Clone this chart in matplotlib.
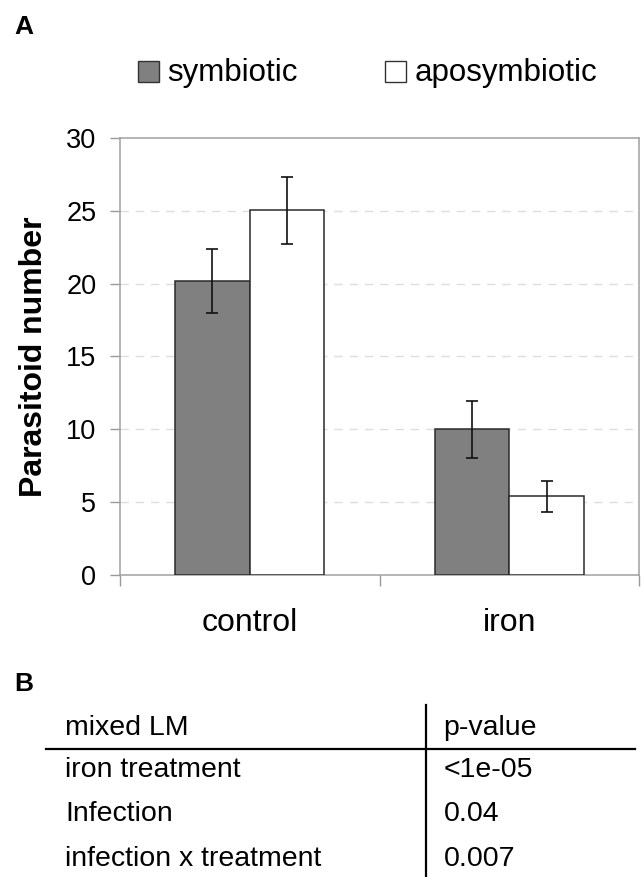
import matplotlib
matplotlib.use("Agg")
import matplotlib.pyplot as plt
import numpy as np
from matplotlib.lines import Line2D
from matplotlib.patches import Rectangle

plt.rcParams['font.family'] = ['Liberation Sans', 'DejaVu Sans']

# data
categories = ['control', 'iron']
series = ['symbiotic', 'aposymbiotic']
symbiotic = [20.2, 10.0]
symbiotic_err = [2.2, 1.95]
aposymbiotic = [25.05, 5.4]
aposymbiotic_err = [2.3, 1.05]

table_header = ['mixed LM', 'p-value']
table_terms = ['iron treatment', 'Infection', 'infection x treatment']
table_pvalues = ['<1e-05', '0.04', '0.007']

fig = plt.figure(figsize=(6.41, 8.77), dpi=100)
ax = fig.add_axes([0.1872, 0.3444, 0.8097, 0.4983])

x = np.arange(len(categories))
w = 0.288
ax.bar(x - w / 2, symbiotic, w, color='#808080', edgecolor='#2a2a2a', linewidth=1.1, zorder=3)
ax.bar(x + w / 2, aposymbiotic, w, color='white', edgecolor='#2a2a2a', linewidth=1.1, zorder=3)
ax.errorbar(x - w / 2, symbiotic, yerr=symbiotic_err, fmt='none', ecolor='#111111',
            elinewidth=1.2, capsize=4.5, capthick=1.2, zorder=4)
ax.errorbar(x + w / 2, aposymbiotic, yerr=aposymbiotic_err, fmt='none', ecolor='#111111',
            elinewidth=1.2, capsize=4.5, capthick=1.2, zorder=4)

ax.set_xlim(-0.5, 1.5)
ax.set_ylim(0, 30)
ax.set_yticks(np.arange(0, 31, 5))
ax.tick_params(axis='y', labelsize=19.5, length=7, width=1.0, color='#999999', direction='out', pad=10)
ax.set_xticks([-0.5, 0.5, 1.5])
ax.set_xticklabels([])
ax.set_xticks(x, minor=True)
ax.set_xticklabels(categories, minor=True, fontsize=23)
ax.tick_params(axis='x', which='major', length=8, width=1.0, color='#999999', direction='out')
ax.tick_params(axis='x', which='minor', length=0, pad=24)
for s in ax.spines.values():
    s.set_color('#a0a0a0')
    s.set_linewidth(1.1)

for v in range(5, 30, 5):
    ax.axhline(v, color='#dedede', linestyle=(0, (6, 5)), linewidth=1.0, zorder=1)

ax.set_ylabel('Parasitoid number', fontsize=23, fontweight='bold')
ax.yaxis.set_label_coords(-0.137, 0.5)

# legend drawn by hand to match the placement
leg_x = [0.2153, 0.6006]
leg_colors = ['#808080', 'white']
for lx, c, name in zip(leg_x, leg_colors, series):
    fig.add_artist(Rectangle((lx, 0.9068), 0.0328, 0.0239, transform=fig.transFigure,
                             facecolor=c, edgecolor='#333333', linewidth=1.0))
    fig.text(lx + 0.0455, 0.908, name, fontsize=22.5, va='baseline')

fig.text(0.022, 0.983, 'A', fontsize=19, fontweight='bold', va='top')
fig.text(0.022, 0.234, 'B', fontsize=19, fontweight='bold', va='top')

# table
row_y = [0.1619, 0.1140, 0.0639, 0.0125]
fig.text(0.102, row_y[0], table_header[0], fontsize=20.5, va='baseline')
fig.text(0.692, row_y[0], table_header[1], fontsize=20.5, va='baseline')
for i, (t, p) in enumerate(zip(table_terms, table_pvalues)):
    fig.text(0.102, row_y[i + 1], t, fontsize=20.5, va='baseline')
    fig.text(0.692, row_y[i + 1], p, fontsize=20.5, va='baseline')
fig.add_artist(Line2D([0.0718, 0.9906], [0.146, 0.146], color='black', linewidth=1.6))
fig.add_artist(Line2D([0.6646, 0.6646], [0.0, 0.1961], color='black', linewidth=1.6))

fig.savefig('out.png', dpi=100, facecolor='white')
